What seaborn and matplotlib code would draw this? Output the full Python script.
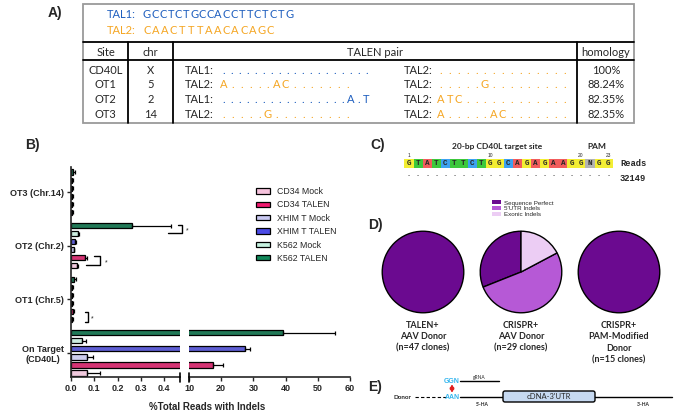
import matplotlib
matplotlib.use("Agg")
import matplotlib.pyplot as plt
from matplotlib.patches import Rectangle, Patch, FancyBboxPatch
import seaborn as sns
import pandas as pd

# ---- data -------------------------------------------------------------
sites = ["OT3 (Chr.14)", "OT2 (Chr.2)", "OT1 (Chr.5)", "On Target\n(CD40L)"]
groups = ["CD34 Mock", "CD34 TALEN", "XHIM T Mock", "XHIM T TALEN", "K562 Mock", "K562 TALEN"]
colors = ["#f6c3dd", "#f0196f", "#c9c9f2", "#4b4be6", "#c6f2e0", "#12885a"]

# mean % indels per site (same order as sites) for each group
cd34_mock = [0.004, 0.025, 0.004, 0.07]
cd34_talen = [0.006, 0.06, 0.008, 17.5]
xhim_mock = [0.005, 0.012, 0.004, 0.07]
xhim_talen = [0.006, 0.018, 0.005, 27.5]
k562_mock = [0.006, 0.03, 0.005, 0.047]
k562_talen = [0.008, 0.26, 0.012, 39.2]

cd34_mock_err = [0.003, 0.006, 0.003, 0.055]
cd34_talen_err = [0.003, 0.01, 0.004, 3.0]
xhim_mock_err = [0.003, 0.003, 0.003, 0.025]
xhim_talen_err = [0.003, 0.005, 0.003, 1.3]
k562_mock_err = [0.003, 0.005, 0.003, 0.018]
k562_talen_err = [0.008, 0.17, 0.008, 16.0]

pie_titles = ["TALEN+\nAAV Donor\n(n=47 clones)",
              "CRISPR+\nAAV Donor\n(n=29 clones)",
              "CRISPR+\nPAM-Modified\nDonor\n(n=15 clones)"]
pie_labels = ["Sequence Perfect", "5'UTR Indels", "Exonic Indels"]
pie_colors = ["#6b0a90", "#b659d6", "#eccdf4"]
pie_counts = [[47, 0, 0], [9, 15, 5], [15, 0, 0]]

target_seq = "GTATCTTCTGGCAGAGAAGGNGG"
target_reads = "32149"

table_sites = ["CD40L", "OT1", "OT2", "OT3"]
table_chr = ["X", "5", "2", "14"]
table_homology = ["100%", "88.24%", "82.35%", "82.35%"]
tal1_seq = "GCCTCTGCCACCTTCTCTG"
tal2_seq = "CAACTTTAACACAGC"
pair_left = [("TAL1", "..................."), ("TAL2", "A.....AC......."),
             ("TAL1", "................A.T"), ("TAL2", ".....G.........")]
pair_right = [("TAL2", "..............."), ("TAL2", ".....G........."),
              ("TAL2", "ATC............"), ("TAL2", "A.....AC.......")]

# ---- figure -----------------------------------------------------------
sns.set_style("ticks")
plt.rcParams["font.family"] = ["Liberation Sans", "DejaVu Sans"]

W, H = 675, 415
fig = plt.figure(figsize=(6.75, 4.15), dpi=100)


def px_axes(x0, y0, x1, y1):
    return fig.add_axes([x0 / W, 1 - y1 / H, (x1 - x0) / W, (y1 - y0) / H])


# overlay for text / diagrams (pixel coordinates)
ov = fig.add_axes([0, 0, 1, 1])
ov.set_xlim(0, W)
ov.set_ylim(H, 0)
ov.axis("off")
ov.set_zorder(10)

BLUE, ORANGE = "#1f5fbf", "#f5a623"
TF = "Lato"

# ---- panel A: table ---------------------------------------------------
ov.text(62, 13, "A)", ha="right", va="center", fontsize=10, fontweight="bold")
ov.add_patch(Rectangle((83, 4), 551, 119, fill=False, ec="#9a9a9a", lw=1.3))
for yy in (42, 60):
    ov.plot([83, 634], [yy, yy], color="black", lw=1.3)
for xx in (128, 173, 577):
    ov.plot([xx, xx], [42, 123], color="black", lw=1.3)


def spaced(x0, y, s, step, color, size=8):
    for i, ch in enumerate(s):
        ov.text(x0 + i * step, y, ch, color=color, fontsize=size, family=TF,
                ha="center", va="center")


ov.text(107, 15, "TAL1:", color=BLUE, fontsize=8, family=TF, va="center")
spaced(147, 15, tal1_seq, 7.9, BLUE)
ov.text(107, 30, "TAL2:", color=ORANGE, fontsize=8, family=TF, va="center")
spaced(147, 30, tal2_seq, 8.8, ORANGE)

for x, txt in [(105.5, "Site"), (150.5, "chr"), (375, "TALEN pair"), (606, "homology")]:
    ov.text(x, 52, txt, ha="center", va="center", fontsize=8, family=TF)

row_y = [70, 84, 99, 114]
for i, y in enumerate(row_y):
    ov.text(105.5, y, table_sites[i], ha="center", va="center", fontsize=8, family=TF)
    ov.text(150.5, y, table_chr[i], ha="center", va="center", fontsize=8, family=TF)
    ov.text(606, y, table_homology[i], ha="center", va="center", fontsize=8, family=TF)
    for (name, s), xl, xs in [(pair_left[i], 185, 224), (pair_right[i], 404, 441)]:
        ov.text(xl, y, name + ":", va="center", fontsize=8, family=TF)
        col = BLUE if name == "TAL1" else ORANGE
        step = 7.9 if len(s) > 15 else 8.8
        spaced(xs, y, s, step, col)

# ---- panel B: broken bar chart ----------------------------------------
ov.text(25, 145, "B)", ha="left", va="center", fontsize=10, fontweight="bold")

vals = [cd34_mock, cd34_talen, xhim_mock, xhim_talen, k562_mock, k562_talen]
errs = [cd34_mock_err, cd34_talen_err, xhim_mock_err, xhim_talen_err,
        k562_mock_err, k562_talen_err]
rows = []
for g, v, e in zip(groups, vals, errs):
    for s, vv, ee in zip(sites, v, e):
        rows.append({"site": s, "group": g, "value": vv, "err": ee})
df = pd.DataFrame(rows)
palette = dict(zip(groups, colors))
hue_order = groups[::-1]

ax1 = px_axes(71, 167, 180, 377)
ax2 = px_axes(189, 167, 350, 377)
XMAX1 = 0.468
for ax, lo, hi in ((ax1, 0, XMAX1), (ax2, 10, 60)):
    sns.barplot(data=df, y="site", x="value", hue="group", order=sites,
                hue_order=hue_order, palette=palette, orient="h", width=0.9,
                gap=0.35, edgecolor="black", linewidth=0.9, errorbar=None,
                legend=False, ax=ax)
    for cont, g in zip(ax.containers, hue_order):
        sub = df[df["group"] == g].set_index("site").loc[sites]
        ys = [b.get_y() + b.get_height() / 2 for b in cont]
        for v, e, y in zip(sub["value"], sub["err"], ys):
            if lo <= v <= hi:
                ax.errorbar([v], [y], xerr=[[0], [e]], fmt="none", ecolor="black",
                            elinewidth=0.9, capsize=1.5, capthick=0.9, clip_on=False)
    ax.set_ylim(3.45, -0.47)
    ax.set_xlabel("")
    ax.set_ylabel("")
    ax.patch.set_visible(False)
    for sp in ("top", "right"):
        ax.spines[sp].set_visible(False)
    ax.spines["bottom"].set_linewidth(1.2)
    ax.tick_params(axis="x", length=3, width=1.0, labelsize=6.5, pad=2)

ax1.set_xlim(0, XMAX1)
ax1.set_xticks([0, 0.1, 0.2, 0.3, 0.4])
ax1.set_xticklabels(["0.0", "0.1", "0.2", "0.3", "0.4"], fontweight="bold")
ax1.spines["left"].set_linewidth(1.2)
ax1.tick_params(axis="y", length=3, width=1.0, labelsize=6.5, pad=2)
for lab in ax1.get_yticklabels():
    lab.set_fontweight("bold")
    lab.set_multialignment("center")

ax2.set_xlim(10, 60)
ax2.set_xticks([10, 20, 30, 40, 50, 60])
ax2.set_xticklabels(["10", "20", "30", "40", "50", "60"], fontweight="bold")
ax2.spines["left"].set_visible(False)
ax2.set_yticks([])

# break marks
for xx in (180, 189):
    ov.plot([xx, xx], [373, 382], color="black", lw=1.2)

# significance brackets
for pts, star in [([(178, 225), (182, 225), (182, 233), (168, 233)], (187, 231)),
                  ([(94, 256), (100, 256), (100, 265), (86, 265)], (106, 263)),
                  ([(85, 312), (88, 312), (88, 322), (85, 322)], (92, 319))]:
    ov.plot([p[0] for p in pts], [p[1] for p in pts], color="black", lw=1.0)
    ov.text(star[0], star[1], "*", fontsize=5, ha="center", va="center")

ov.text(207, 407, "%Total Reads with Indels", ha="center", va="center",
        fontsize=7, fontweight="bold")

handles = [Patch(fc=c, ec="black", lw=0.9) for c in colors]
fig.legend(handles, groups, loc="upper left", bbox_to_anchor=(256 / W, 1 - 187 / H),
           frameon=False, fontsize=6.3, handlelength=1.6, handleheight=0.55,
           labelspacing=0.5, handletextpad=0.8, borderpad=0, borderaxespad=0)

# ---- panel C: target sequence -----------------------------------------
ov.text(378, 145, "C)", ha="center", va="center", fontsize=10, fontweight="bold")
base_colors = {"A": "#f25c5c", "C": "#3ca2f0", "G": "#f3ee34", "T": "#3cc83c", "N": "#b3b3b3"}
step = 9.05
x0 = 409
for i, b in enumerate(target_seq):
    xc = x0 + i * step
    ov.add_patch(Rectangle((xc - step / 2, 159), step, 8.5, fc=base_colors[b], ec="none"))
    ov.text(xc, 163.5, b, ha="center", va="center", fontsize=5.5,
            family="Liberation Mono", fontweight="bold")
    ov.text(xc, 178, ".", ha="center", va="bottom", fontsize=5.5, fontweight="bold")
for n in (1, 10, 20, 23):
    ov.text(x0 + (n - 1) * step, 155, str(n), ha="center", va="center", fontsize=3.5)
ov.text(497, 146, "20-bp CD40L target site", ha="center", va="center",
        fontsize=6, fontweight="bold", family=TF)
ov.text(597, 146, "PAM", ha="center", va="center", fontsize=6, fontweight="bold", family=TF)
ov.text(620, 163.5, "Reads", ha="left", va="center", fontsize=6.3,
        family="Liberation Mono", fontweight="bold")
ov.text(620, 178, target_reads, ha="left", va="center", fontsize=6.3,
        family="Liberation Mono", fontweight="bold")

# ---- panel D: pies ------------------------------------------------------
ov.text(375, 225, "D)", ha="center", va="center", fontsize=10, fontweight="bold")
for cx, counts, title in zip([423, 521, 619], pie_counts, pie_titles):
    pax = px_axes(cx - 42, 230, cx + 42, 314)
    keep = [(c, col) for c, col in zip(counts, pie_colors) if c > 0]
    pax.pie([k[0] for k in keep], colors=[k[1] for k in keep], startangle=90,
            counterclock=True, wedgeprops=dict(edgecolor="black", linewidth=1.0))
    pax.set_xlim(-1.03, 1.03)
    pax.set_ylim(-1.03, 1.03)
    ov.text(cx, 321, title, ha="center", va="top", fontsize=6.5,
            fontweight="bold", family=TF, linespacing=1.35)

fig.legend([Patch(fc=c, ec="none") for c in pie_colors], pie_labels,
           loc="upper left", bbox_to_anchor=(492 / W, 1 - 200.5 / H), frameon=False,
           fontsize=4.5, handlelength=1.4, handleheight=0.5, labelspacing=0.15,
           handletextpad=0.6, borderpad=0, borderaxespad=0)

# ---- panel E: donor diagram -------------------------------------------
ov.text(375, 387, "E)", ha="center", va="center", fontsize=10, fontweight="bold")
CYAN = "#33b5ee"
ov.text(402, 397, "Donor", ha="center", va="center", fontsize=4.5, fontweight="bold",
        family=TF)
ov.plot([415, 446], [397, 397], color="black", lw=0.8, ls=(0, (3, 2)))
ov.text(452, 397, "AAN", ha="center", va="center", fontsize=5, color=CYAN,
        fontweight="bold")
ov.plot([460, 672], [397, 397], color="black", lw=1.0)
ov.add_patch(FancyBboxPatch((503, 391), 92, 11, boxstyle="round,pad=0,rounding_size=2",
                            fc="#c6d9f1", ec="black", lw=1.0, zorder=3))
ov.text(549, 396.5, "cDNA-3'UTR", ha="center", va="center", fontsize=5.5, zorder=4,
        family=TF)
ov.text(452, 381, "GGN", ha="center", va="center", fontsize=5, color=CYAN,
        fontweight="bold")
ov.plot([460, 499], [381, 381], color="black", lw=1.0)
ov.text(479, 377, "gRNA", ha="center", va="center", fontsize=3.5, family=TF)
ov.annotate("", xy=(452, 393), xytext=(452, 384),
            arrowprops=dict(arrowstyle="<|-|>", color="#e02020", lw=1.4,
                            mutation_scale=5, shrinkA=0, shrinkB=0))
ov.text(482, 404, "5'-HA", ha="center", va="center", fontsize=3.5, fontweight="bold",
        family=TF)
ov.text(643, 404, "3'-HA", ha="center", va="center", fontsize=3.5, fontweight="bold",
        family=TF)

fig.savefig("out.png", dpi=100)
